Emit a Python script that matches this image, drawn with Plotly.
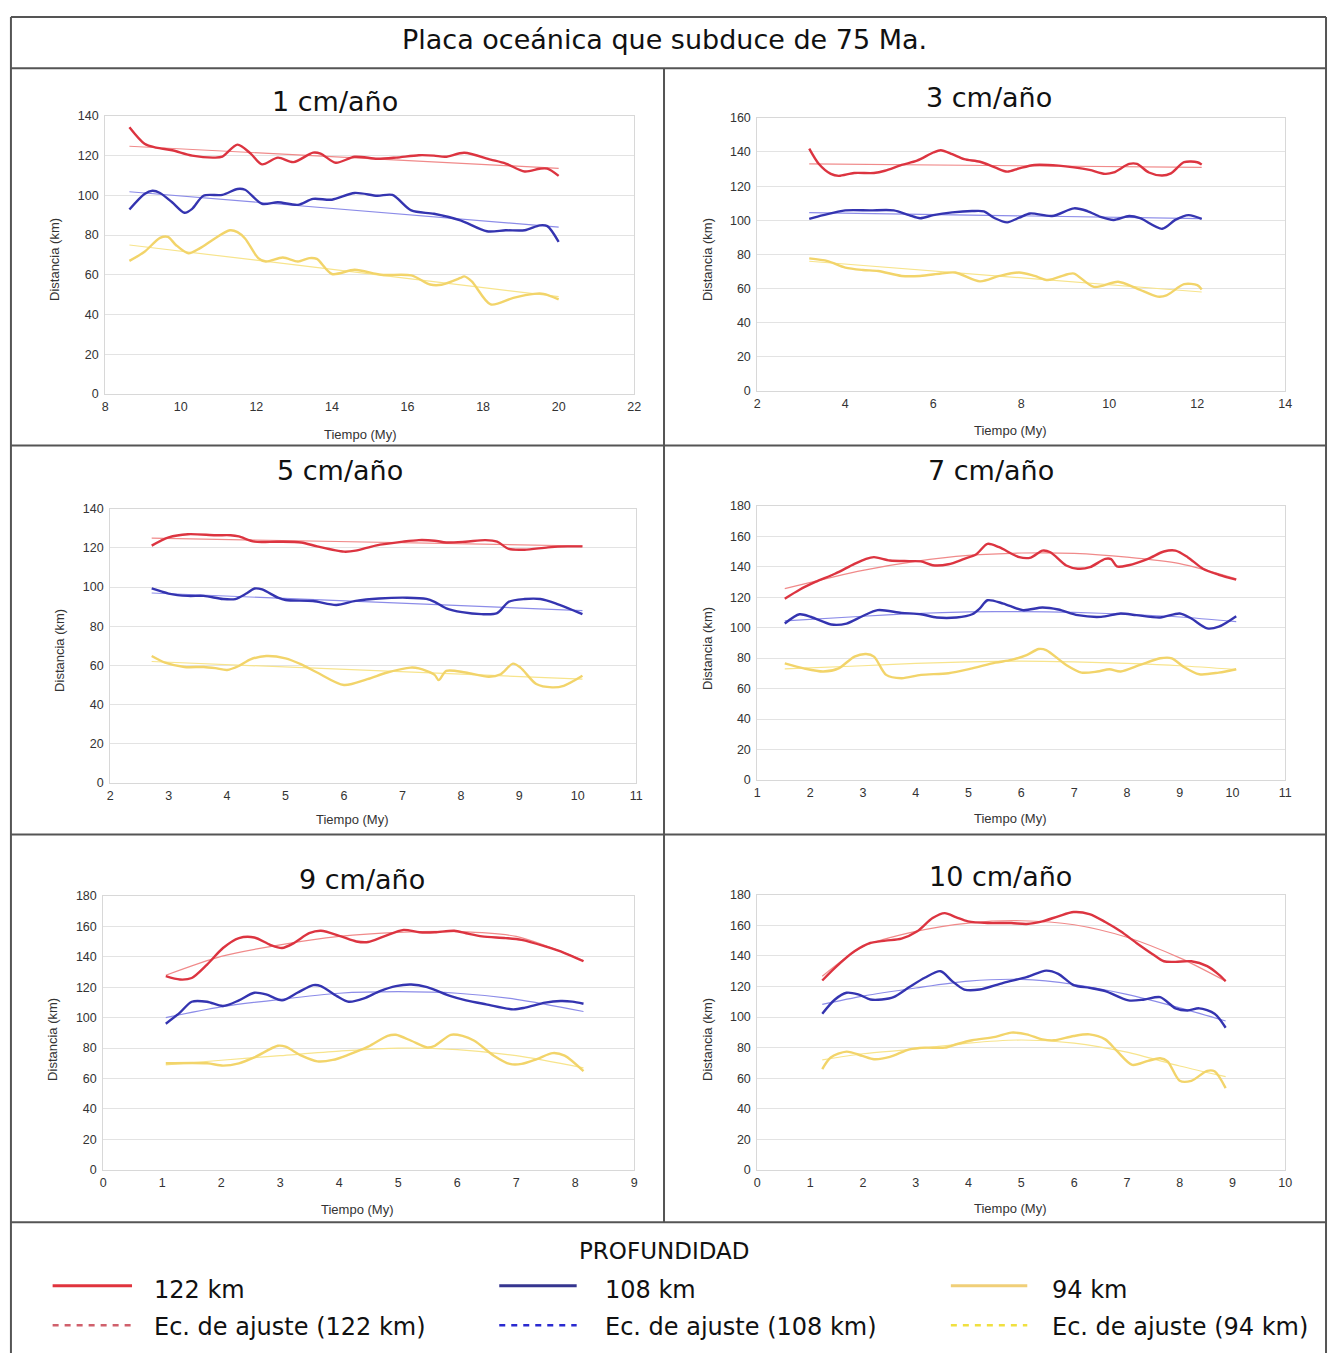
import plotly.graph_objects as go

W, H = 1335, 1360

# ---------------- DATA ----------------
# Panel 1: 1 cm/año
p1_t122 = [8.64, 9.04, 9.35, 9.77, 10.3, 10.9, 11.1, 11.5, 11.85, 12.15, 12.57, 12.98, 13.5, 13.7, 14.1, 14.6, 15.2, 15.7, 16.3, 16.7, 17.0, 17.5, 18.2, 18.6, 19.1, 19.5, 19.7, 20.0]
p1_d122 = [134.3, 126, 124, 122.7, 120, 119, 119.5, 125.5, 121, 115.6, 119, 116.7, 121.5, 121, 116.4, 119.4, 118.4, 119, 120.2, 120, 119.4, 121.4, 118, 116, 112, 113.4, 113.4, 109.8]
p1_t108 = [8.64, 9.04, 9.25, 9.45, 9.77, 10.1, 10.3, 10.6, 11.1, 11.5, 11.7, 12.15, 12.57, 13.1, 13.5, 14.0, 14.6, 15.2, 15.6, 16.1, 16.7, 17.4, 18.1, 18.6, 19.1, 19.5, 19.7, 20.0]
p1_d108 = [92.9, 100.7, 102.3, 101.2, 96.5, 91.2, 93.2, 99.8, 100.2, 103.2, 102.8, 95.7, 96.5, 95.2, 98.2, 97.8, 101.2, 99.8, 100.2, 92.4, 90.7, 87.4, 81.9, 82.4, 82.4, 84.9, 84.5, 76.6]
p1_t94 = [8.64, 9.04, 9.45, 9.66, 9.87, 10.2, 10.5, 10.9, 11.3, 11.5, 11.7, 12.05, 12.25, 12.7, 13.1, 13.4, 13.6, 14.0, 14.6, 15.3, 16.1, 16.6, 16.9, 17.4, 17.5, 17.7, 18.2, 18.8, 19.35, 19.6, 20.0]
p1_d94 = [67, 71.6, 78.6, 79.1, 75, 70.8, 73.3, 78.3, 82.4, 81.5, 78.3, 68.4, 66.7, 68.7, 66.7, 68.4, 68, 60.4, 62.5, 60, 59.7, 55.1, 55, 58.4, 59.2, 56.7, 45.1, 48.4, 50.4, 50.4, 47.6]
p1_fit_t = [8.64, 20.0]
p1_fit122 = [124.7, 113.6]
p1_fit108 = [101.8, 84.0]
p1_fit94 = [75.0, 49.0]

# Panel 2: 3 cm/año
p2_t122 = [3.18, 3.4, 3.67, 3.85, 4.2, 4.65, 4.9, 5.28, 5.63, 6.0, 6.17, 6.43, 6.7, 7.06, 7.4, 7.68, 7.95, 8.3, 8.85, 9.2, 9.55, 9.9, 10.1, 10.45, 10.63, 10.9, 11.2, 11.4, 11.7, 12.0, 12.1]
p2_d122 = [142, 133, 127.2, 126, 127.7, 127.7, 129, 132.4, 134.9, 139.7, 141, 138.7, 135.8, 134.3, 131, 128.5, 130.4, 132.4, 132, 131, 129.5, 127.2, 128, 133, 133, 128, 126.2, 127.5, 134, 134, 132.6]
p2_t108 = [3.18, 3.5, 4.0, 4.56, 5.1, 5.45, 5.7, 6.0, 6.43, 6.88, 7.15, 7.4, 7.68, 7.95, 8.2, 8.7, 9.2, 9.5, 9.8, 10.1, 10.45, 10.7, 11.2, 11.5, 11.8, 12.1]
p2_d108 = [100.8, 103, 105.8, 105.8, 105.8, 103, 101.2, 103, 104.6, 105.4, 105.2, 101.2, 98.8, 101.5, 104, 102.5, 107, 105.4, 102, 100.2, 102.5, 101.2, 95, 100.2, 103, 100.8]
p2_t94 = [3.18, 3.6, 4.0, 4.4, 4.75, 5.28, 5.7, 6.17, 6.5, 7.06, 7.5, 7.95, 8.3, 8.6, 9.05, 9.2, 9.65, 10.2, 10.63, 11.1, 11.3, 11.7, 12.0, 12.1]
p2_d94 = [77.7, 76.1, 72.3, 70.9, 70.3, 67.4, 67.4, 68.8, 69.4, 64.2, 67.4, 69.4, 67.4, 65, 68.4, 68.8, 61, 64, 60, 55.3, 56, 62.6, 62, 59.5]
p2_fit_t = [3.18, 12.1]
p2_fit122 = [133.0, 131.0]
p2_fit108 = [104.5, 101.0]
p2_fit94 = [76.0, 58.0]

# Panel 3: 5 cm/año
p3_t122 = [2.71, 3.0, 3.33, 3.8, 4.06, 4.2, 4.47, 4.87, 5.27, 5.54, 6.0, 6.2, 6.54, 7.01, 7.28, 7.55, 7.75, 8.08, 8.42, 8.62, 8.82, 9.09, 9.49, 9.83, 10.08]
p3_d122 = [121.2, 125.4, 127, 126.5, 126.5, 125.9, 123.2, 123.2, 122.8, 120.8, 118.1, 118.6, 121.2, 123.2, 124, 123.7, 122.8, 123.2, 124, 123.2, 119.5, 119.1, 120.3, 120.8, 120.8]
p3_t108 = [2.71, 3.0, 3.33, 3.6, 3.93, 4.14, 4.33, 4.47, 4.6, 4.87, 5.0, 5.47, 5.87, 6.2, 6.6, 7.08, 7.41, 7.55, 7.75, 8.02, 8.35, 8.62, 8.82, 9.09, 9.36, 9.62, 10.08]
p3_d108 = [99.3, 96.7, 95.5, 95.5, 93.9, 93.9, 96.7, 99.3, 98.8, 94.6, 93.4, 92.9, 90.9, 93, 94.2, 94.6, 94, 92.5, 89.2, 87.2, 86.2, 86.7, 92.5, 93.9, 93.9, 91.7, 86.2]
p3_t94 = [2.71, 2.94, 3.27, 3.6, 3.8, 4.0, 4.2, 4.4, 4.67, 5.0, 5.27, 5.54, 6.0, 6.4, 6.74, 7.14, 7.28, 7.55, 7.62, 7.75, 8.08, 8.48, 8.68, 8.89, 9.02, 9.29, 9.56, 9.76, 10.08]
p3_d94 = [64.8, 61.4, 59.2, 59.2, 58.6, 57.7, 59.7, 63.1, 64.8, 63.6, 60.5, 56.4, 50, 53, 56.4, 58.9, 58.5, 55.2, 52.5, 57.2, 56.4, 54.2, 55.5, 60.9, 58.9, 50.5, 48.8, 49.6, 54.7]
p3_fit_t = [2.71, 10.08]
p3_fit122 = [125.0, 121.0]
p3_fit108 = [97.0, 88.0]
p3_fit94 = [62.0, 53.0]

# Panel 4: 7 cm/año
p4_t122 = [1.52, 1.8, 2.1, 2.47, 2.84, 3.06, 3.21, 3.51, 3.88, 4.1, 4.32, 4.62, 4.92, 5.14, 5.36, 5.58, 5.96, 6.18, 6.4, 6.55, 6.85, 7.07, 7.3, 7.59, 7.7, 7.81, 8.03, 8.4, 8.7, 8.92, 9.15, 9.44, 9.74, 10.07]
p4_d122 = [119, 124.9, 130, 135.4, 141.9, 145.2, 146.3, 144.1, 143.7, 143.5, 141, 141.6, 145.2, 148, 155, 152.8, 146.3, 146, 150.6, 149.5, 140.8, 138.7, 139.7, 145.2, 145, 140.2, 141, 145.2, 150, 150.6, 146.3, 138.7, 134.7, 131.5]
p4_t108 = [1.52, 1.8, 2.02, 2.4, 2.69, 2.99, 3.28, 3.73, 4.1, 4.4, 4.77, 5.07, 5.21, 5.36, 5.66, 6.03, 6.4, 6.7, 7.07, 7.51, 7.88, 8.18, 8.63, 9.0, 9.22, 9.52, 9.74, 10.07]
p4_d108 = [102.7, 108.8, 107, 102.1, 102.7, 107.5, 111.5, 109.7, 108.8, 106.7, 106.7, 108.8, 112.5, 118, 115.8, 111.5, 113.2, 111.9, 108.2, 107.1, 109.3, 108.2, 106.7, 109.3, 106, 99.5, 100.6, 107.5]
p4_t94 = [1.52, 1.88, 2.25, 2.54, 2.84, 3.06, 3.21, 3.44, 3.73, 4.1, 4.62, 5.07, 5.51, 5.81, 6.1, 6.33, 6.47, 6.85, 7.14, 7.44, 7.67, 7.88, 8.25, 8.63, 8.85, 9.07, 9.37, 9.74, 10.07]
p4_d94 = [76.6, 73.3, 71.2, 73.3, 81, 82.7, 81, 69, 66.8, 69, 70.1, 73.3, 77, 78.8, 82, 86, 85.3, 75.5, 70.5, 71.2, 72.7, 71.2, 75.5, 79.9, 79.9, 74.4, 69.4, 70.5, 72.7]
p4_fit_t = [1.52, 3, 4, 5, 6, 7, 8, 9, 10.07]
p4_fit122 = [125.6, 137.6, 143.5, 147.4, 149, 148.8, 146.3, 142, 132]
p4_fit108 = [104.5, 107.5, 109.3, 110.3, 110.5, 110, 108.8, 107, 104]
p4_fit94 = [73, 75, 76.5, 77.5, 78, 77.5, 76.5, 75, 72.5]

# Panel 5: 9 cm/año
p5_t122 = [1.06, 1.3, 1.5, 1.76, 2.03, 2.3, 2.56, 2.83, 3.03, 3.23, 3.49, 3.69, 4.03, 4.29, 4.49, 4.76, 5.09, 5.36, 5.62, 5.95, 6.15, 6.42, 6.82, 7.09, 7.49, 7.82, 8.14]
p5_d122 = [127.2, 125, 126, 134.8, 145.7, 152.2, 152.6, 147.8, 145.7, 148.9, 155.4, 157, 153.3, 150, 149.6, 153.3, 157.6, 156, 156, 157, 155.4, 153.3, 152.2, 151, 146.7, 142.4, 137]
p5_t108 = [1.06, 1.3, 1.5, 1.76, 2.03, 2.3, 2.56, 2.76, 3.03, 3.29, 3.56, 3.69, 3.96, 4.16, 4.42, 4.69, 4.96, 5.22, 5.49, 5.89, 6.15, 6.49, 6.95, 7.15, 7.49, 7.75, 7.95, 8.14]
p5_d108 = [96, 103.3, 110.4, 110.4, 107.6, 111.3, 116.3, 115.2, 111.3, 116.3, 121.3, 120.7, 114.1, 110.4, 112.6, 117.4, 120.7, 121.7, 120, 114.1, 111.3, 108.7, 105.4, 106.5, 109.8, 110.9, 110.5, 109.1]
p5_t94 = [1.06, 1.76, 2.03, 2.3, 2.56, 2.96, 3.09, 3.36, 3.63, 3.89, 4.16, 4.49, 4.82, 4.96, 5.22, 5.49, 5.62, 5.89, 6.09, 6.29, 6.62, 6.89, 7.09, 7.35, 7.62, 7.82, 8.14]
p5_d94 = [70, 70, 68.5, 70, 73.9, 81.5, 80.9, 75, 71.3, 72.2, 75.7, 80.9, 88, 88.7, 84.8, 80.4, 81.5, 88.7, 88, 84.8, 75, 69.6, 69.6, 72.8, 76.7, 75, 64.8]
p5_fit_t = [1.06, 2, 3, 4, 5, 6, 7, 8.14]
p5_fit122 = [127.8, 140.2, 147.8, 153.3, 156, 156.5, 153.3, 137.4]
p5_fit108 = [100, 107, 112, 116, 117, 116, 112, 104]
p5_fit94 = [69, 72, 75, 78, 80, 79, 75, 67]

# Panel 6: 10 cm/año
p6_t122 = [1.23, 1.47, 1.84, 2.14, 2.43, 2.73, 3.03, 3.32, 3.55, 3.77, 3.99, 4.36, 4.81, 5.1, 5.4, 5.7, 5.99, 6.29, 6.59, 6.88, 7.18, 7.48, 7.7, 7.92, 8.22, 8.52, 8.74, 8.87]
p6_d122 = [123.9, 132.2, 143, 148.5, 150, 151.3, 156.1, 164.8, 168, 165.2, 162.6, 161.5, 161.5, 160.9, 162.6, 165.9, 168.7, 167.4, 162.2, 156.1, 148.5, 141.3, 136.5, 136.1, 136.5, 133.3, 127.8, 123.5]
p6_t108 = [1.23, 1.47, 1.69, 1.91, 2.14, 2.36, 2.58, 2.88, 3.17, 3.47, 3.69, 3.92, 4.21, 4.66, 5.1, 5.47, 5.7, 5.99, 6.29, 6.59, 7.03, 7.33, 7.63, 7.92, 8.15, 8.37, 8.66, 8.87]
p6_d108 = [102.2, 111.5, 115.9, 114.8, 111.5, 111.5, 113, 119.6, 125.7, 130, 123.5, 118, 118, 122.4, 126.1, 130.4, 128.3, 120.9, 119.1, 117, 110.9, 111.5, 113, 105.7, 104.3, 105.7, 102.2, 93]
p6_t94 = [1.23, 1.39, 1.69, 1.99, 2.21, 2.51, 2.88, 3.17, 3.55, 3.77, 4.07, 4.51, 4.81, 5.1, 5.4, 5.62, 5.99, 6.29, 6.59, 6.81, 7.1, 7.4, 7.63, 7.77, 8.0, 8.22, 8.52, 8.66, 8.87]
p6_d94 = [65.9, 73.5, 77.4, 74.6, 72.4, 73.9, 78.9, 80, 80, 82.2, 84.8, 87, 89.8, 88.7, 85.4, 84.8, 87.6, 88.7, 85.4, 77.8, 68.7, 71.3, 73, 71, 58.3, 58.3, 64.8, 64.5, 53.5]
p6_fit_t = [1.23, 2, 3, 4, 5, 6, 7, 8, 8.87]
p6_fit122 = [126.7, 146, 156, 161.5, 163, 160.4, 152.2, 138.7, 123.5]
p6_fit108 = [108.3, 113.7, 119, 123.5, 124.6, 121.3, 114.8, 106, 97.4]
p6_fit94 = [72, 76, 79, 83, 85, 83, 77, 68, 61]

panel_titles = ["1 cm/año", "3 cm/año", "5 cm/año", "7 cm/año", "9 cm/año", "10 cm/año"]
x_ranges = [(8, 22), (2, 14), (2, 11), (1, 11), (0, 9), (0, 10)]
x_dticks = [2, 2, 1, 1, 1, 1]
y_maxes = [140, 160, 140, 180, 180, 180]
depth_labels = ["122 km", "108 km", "94 km"]
fit_labels = ["Ec. de ajuste (122 km)", "Ec. de ajuste (108 km)", "Ec. de ajuste (94 km)"]
main_title = "Placa oceánica que subduce de 75 Ma."
legend_title = "PROFUNDIDAD"

panels = [
    (p1_t122, p1_d122, p1_t108, p1_d108, p1_t94, p1_d94, p1_fit_t, p1_fit122, p1_fit108, p1_fit94),
    (p2_t122, p2_d122, p2_t108, p2_d108, p2_t94, p2_d94, p2_fit_t, p2_fit122, p2_fit108, p2_fit94),
    (p3_t122, p3_d122, p3_t108, p3_d108, p3_t94, p3_d94, p3_fit_t, p3_fit122, p3_fit108, p3_fit94),
    (p4_t122, p4_d122, p4_t108, p4_d108, p4_t94, p4_d94, p4_fit_t, p4_fit122, p4_fit108, p4_fit94),
    (p5_t122, p5_d122, p5_t108, p5_d108, p5_t94, p5_d94, p5_fit_t, p5_fit122, p5_fit108, p5_fit94),
    (p6_t122, p6_d122, p6_t108, p6_d108, p6_t94, p6_d94, p6_fit_t, p6_fit122, p6_fit108, p6_fit94),
]

# ---------------- STYLE / LAYOUT ----------------
COL = ["#dc3440", "#3434b0", "#f2d46a"]
FIT = ["#f08a8a", "#8c8ce8", "#f7e48c"]
LEG_COL = ["#e0343e", "#35358f", "#f0cf78"]
LEG_FIT = ["#d0606c", "#2a2ad0", "#f0e040"]

# plot-area pixel boxes: (x_left, x_right, y_top, y_bottom)
boxes = [
    (103, 636, 110, 391),
    (760, 1292, 112, 388),
    (108, 638, 507, 784),
    (760, 1292, 504, 781),
    (101, 636, 898, 1175),
    (760, 1292, 897, 1175),
]
title_pos = [(335, 95), (993, 91), (340, 468), (995, 468), (362, 882), (1005, 879)]
ytitle_pos = [(52, 255), (710, 255), (57, 650), (710, 648), (50, 1043), (710, 1043)]
xtitle_pos = [(360, 432), (1015, 428), (352, 821), (1015, 820), (357, 1215), (1015, 1214)]


def px(x):
    return x / W


def py(y):
    return 1 - y / H


fig = go.Figure()
layout = dict(
    width=W, height=H,
    margin=dict(l=0, r=0, t=0, b=0),
    paper_bgcolor="white", plot_bgcolor="white",
    showlegend=False,
    font=dict(family="Liberation Sans, Arial, sans-serif", color="#333"),
)
annotations = []
shapes = []

for i, p in enumerate(panels):
    n = "" if i == 0 else str(i + 1)
    xa, ya = "x" + n, "y" + n
    t122, d122, t108, d108, t94, d94, ft, f122, f108, f94 = p
    # fit lines (behind)
    for fy, c in zip([f122, f108, f94], FIT):
        fig.add_trace(go.Scatter(x=ft, y=fy, mode="lines", xaxis=xa, yaxis=ya,
                                 line=dict(color=c, width=1.2, shape="spline", smoothing=0.8),
                                 hoverinfo="skip"))
    for tx, dy, c in zip([t122, t108, t94], [d122, d108, d94], COL):
        fig.add_trace(go.Scatter(x=tx, y=dy, mode="lines", xaxis=xa, yaxis=ya,
                                 line=dict(color=c, width=2.4, shape="spline", smoothing=0.8)))
    xl, xr, yt, yb = boxes[i]
    layout["xaxis" + n] = dict(
        domain=[px(xl), px(xr)], range=list(x_ranges[i]), dtick=x_dticks[i],
        anchor=ya, showgrid=False, zeroline=False,
        showline=True, linecolor="#d8d8d8", linewidth=1, mirror=True,
        ticks="", tickfont=dict(size=12.5, color="#333"), ticklabelstandoff=1,
    )
    layout["yaxis" + n] = dict(
        domain=[py(yb), py(yt)], range=[0, y_maxes[i]], dtick=20,
        anchor=xa, showgrid=True, gridcolor="#e3e3e3", gridwidth=1, zeroline=False,
        showline=True, linecolor="#d8d8d8", linewidth=1, mirror=True,
        ticks="", tickfont=dict(size=12.5, color="#333"), ticklabelstandoff=3,
    )
    tx_, ty_ = title_pos[i]
    annotations.append(dict(text=panel_titles[i], x=px(tx_), y=py(ty_), xref="paper", yref="paper",
                            showarrow=False, xanchor="center", yanchor="middle",
                            font=dict(family="DejaVu Sans", size=27, color="#111")))
    ax_, ay_ = ytitle_pos[i]
    annotations.append(dict(text="Distancia (km)", x=px(ax_), y=py(ay_), xref="paper", yref="paper",
                            showarrow=False, textangle=-90, xanchor="center", yanchor="middle",
                            font=dict(size=13, color="#333")))
    bx_, by_ = xtitle_pos[i]
    annotations.append(dict(text="Tiempo (My)", x=px(bx_), y=py(by_), xref="paper", yref="paper",
                            showarrow=False, xanchor="center", yanchor="middle",
                            font=dict(size=13, color="#333")))

# main title
annotations.append(dict(text=main_title, x=px(666), y=py(33), xref="paper", yref="paper",
                        showarrow=False, xanchor="center", yanchor="middle",
                        font=dict(family="DejaVu Sans", size=27, color="#111")))

# frame lines
FR = "#555"
def hline(y, x0=8, x1=1333):
    shapes.append(dict(type="line", xref="paper", yref="paper", x0=px(x0), x1=px(x1),
                       y0=py(y), y1=py(y), line=dict(color=FR, width=2)))
def vline(x, y0, y1):
    shapes.append(dict(type="line", xref="paper", yref="paper", x0=px(x), x1=px(x),
                       y0=py(y0), y1=py(y1), line=dict(color=FR, width=2)))

hline(10); hline(62); hline(443); hline(836); hline(1228)
vline(8, 10, 1360); vline(1333, 10, 1360); vline(666, 62, 1228)

# legend box content
annotations.append(dict(text=legend_title, x=px(666), y=py(1257), xref="paper", yref="paper",
                        showarrow=False, xanchor="center", yanchor="middle",
                        font=dict(family="DejaVu Sans", size=23, color="#111")))
leg_x = [(50, 130, 150), (500, 578, 605), (955, 1032, 1055)]
for k in range(3):
    x0, x1, xt = leg_x[k]
    shapes.append(dict(type="line", xref="paper", yref="paper", x0=px(x0), x1=px(x1),
                       y0=py(1292), y1=py(1292), line=dict(color=LEG_COL[k], width=3)))
    shapes.append(dict(type="line", xref="paper", yref="paper", x0=px(x0), x1=px(x1),
                       y0=py(1332), y1=py(1332), line=dict(color=LEG_FIT[k], width=2.5, dash="6px,6px")))
    annotations.append(dict(text=depth_labels[k], x=px(xt), y=py(1296), xref="paper", yref="paper",
                            showarrow=False, xanchor="left", yanchor="middle",
                            font=dict(family="DejaVu Sans", size=24, color="#111")))
    annotations.append(dict(text=fit_labels[k], x=px(xt), y=py(1334), xref="paper", yref="paper",
                            showarrow=False, xanchor="left", yanchor="middle",
                            font=dict(family="DejaVu Sans", size=24, color="#111")))

layout["annotations"] = annotations
layout["shapes"] = shapes
fig.update_layout(**layout)
fig.write_html("out.html",
               post_script="document.body.style.margin='0';document.body.style.overflow='hidden';")
